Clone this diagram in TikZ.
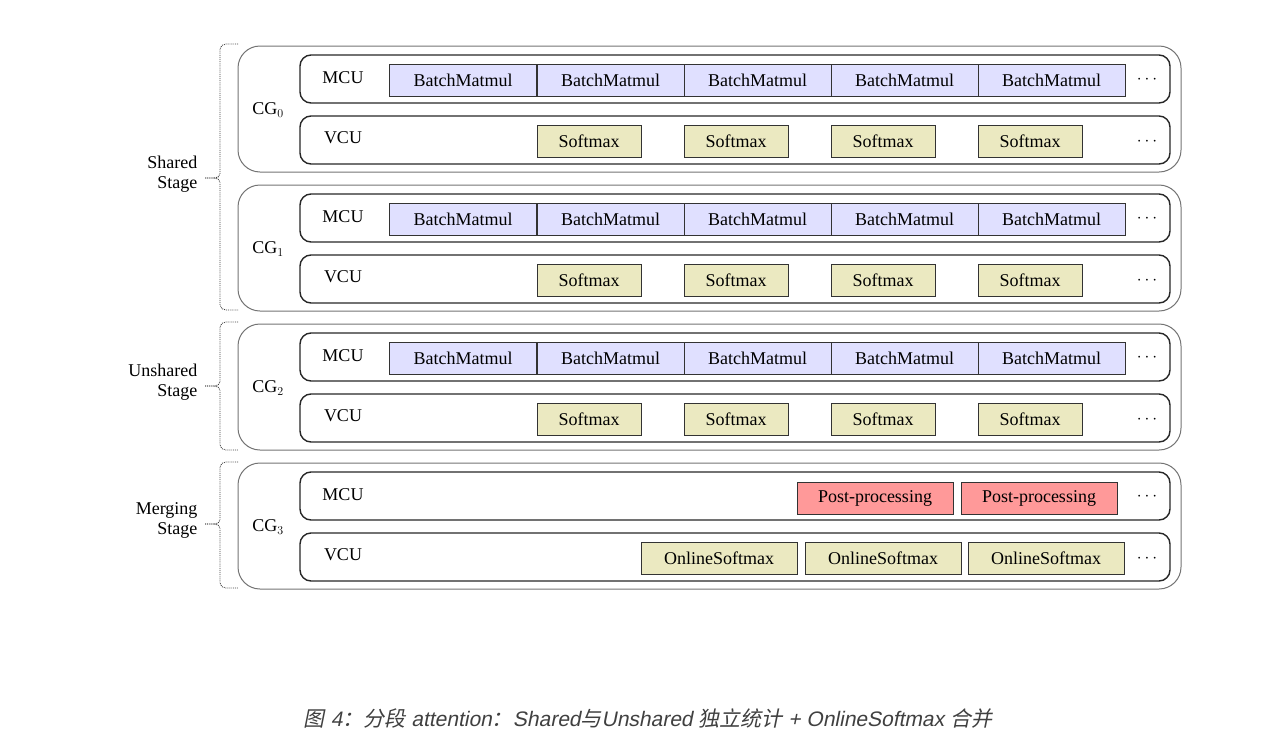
\documentclass[tikz,border=0pt]{standalone}
\usepackage{fontspec}
\setmainfont{Liberation Serif}
\newfontfamily\capfont{Liberation Sans}[FakeSlant=0.2]
\newfontfamily\cjk{Noto Sans CJK SC}[FakeSlant=0.2]
\usetikzlibrary{positioning}

\tikzset{
  cg/.style={draw=black!55, line width=1pt, rounded corners=22pt},
  row/.style={draw=black!85, line width=1.4pt, rounded corners=11pt},
  op/.style={draw=black!80, line width=1pt, minimum height=32pt, inner sep=0pt, font=\fontsize{18}{20}\selectfont},
  mm/.style={op, fill=blue!12!white, minimum width=147pt},
  sm/.style={op, fill=olive!18!white, minimum width=104pt},
  pp/.style={op, fill=red!40!white, minimum width=156pt},
  os/.style={op, fill=olive!18!white, minimum width=156pt},
  lbl/.style={font=\fontsize{18}{20}\selectfont},
  brk/.style={densely dotted, line width=0.9pt, black!75}
}

\begin{document}
\begin{tikzpicture}[x=1pt,y=-1pt]
  \useasboundingbox (0,0) rectangle (1267,750);

  % compute groups
  \foreach \i/\y in {0/46,1/185,2/324,3/463}{
    \draw[cg] (238,\y) rectangle (1181,\y+126);
    \draw[row] (300,\y+9) rectangle (1170,\y+57);
    \draw[row] (300,\y+70) rectangle (1170,\y+118);
    \node[lbl] (cg\i) at (268,\y+64) {CG$_{\i}$};
    \node[lbl] (mcu\i) at (343,\y+32) {MCU};
    \node[lbl] (vcu\i) at (343,\y+92) {VCU};
    \node[lbl] (dm\i) at (1147,\y+34) {$\cdots$};
    \node[lbl] (dv\i) at (1147,\y+96) {$\cdots$};
  }

  % matmul + softmax rows
  \foreach \i/\y in {0/46,1/185,2/324}{
    \foreach \k/\x in {1/463,2/610.5,3/757.5,4/904.5,5/1051.5}
      \node[mm] (b\i\k) at (\x,\y+34) {BatchMatmul};
    \foreach \k/\x in {1/589,2/736,3/883,4/1030}
      \node[sm] (s\i\k) at (\x,\y+95) {Softmax};
  }

  % merging row
  \node[pp] (p1) at (875,498) {Post-processing};
  \node[pp] (p2) at (1039,498) {Post-processing};
  \node[os] (o1) at (719,558) {OnlineSoftmax};
  \node[os] (o2) at (883,558) {OnlineSoftmax};
  \node[os] (o3) at (1046,558) {OnlineSoftmax};

  % stages
  \foreach \n/\ya/\yb/\ym/\txt in {sh/44/310/178/{Shared\\Stage},
                                   un/322/450/386/{Unshared\\Stage},
                                   me/462/588/524/{Merging\\Stage}}{
    \draw[brk] (238,\ya) -- (226,\ya) to[out=180,in=90] (220,\ya+5) -- (220,\ym-4)
      to[out=-90,in=0] (214,\ym) -- (205,\ym);
    \draw[brk] (205,\ym) -- (214,\ym) to[out=0,in=90] (220,\ym+4) -- (220,\yb-5)
      to[out=-90,in=180] (226,\yb) -- (238,\yb);
    \node[lbl, align=right, anchor=east] (st\n) at (201,\ym-4) {\txt};
  }

  \node[font=\fontsize{21}{24}\selectfont, text=black!75] (cap) at (648,719)
    {{\cjk 图}\capfont{} 4{\cjk ：分段} attention{\cjk ：}Shared{\cjk 与}Unshared {\cjk 独立统计} + OnlineSoftmax {\cjk 合并}};
\end{tikzpicture}
\end{document}
